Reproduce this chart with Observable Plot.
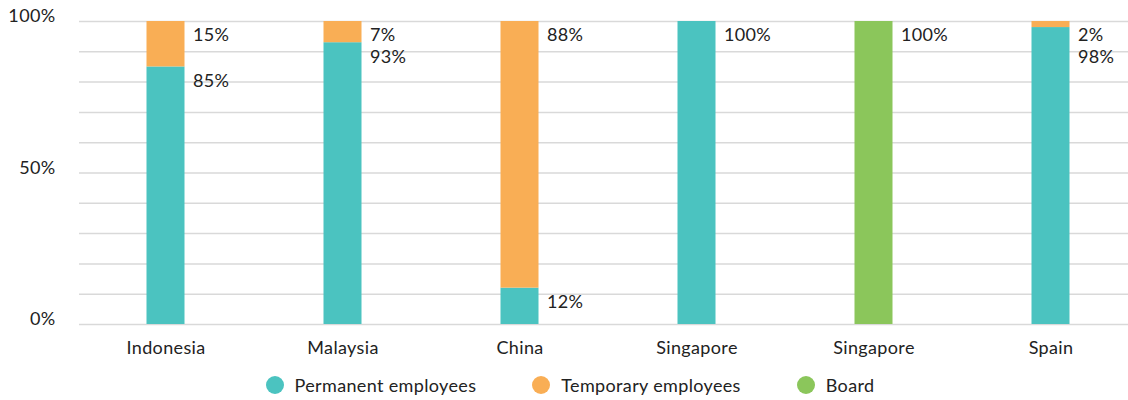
<!DOCTYPE html>
<html>
<head>
<meta charset="utf-8">
<script src="https://cdn.jsdelivr.net/npm/d3@7"></script>
<script src="https://cdn.jsdelivr.net/npm/@observablehq/plot@0.6"></script>
<style>
  html, body { margin: 0; padding: 0; background: #fff; }
  body { font-family: Lato, "Noto Sans", sans-serif; color: #222; width: 1128px; }
  #legend { display: flex; justify-content: center; align-items: center; padding-left: 12px; padding-top: 3px; height: 40px; font-size: 18px; letter-spacing: 0.35px; color: #222; }
  .item { display: flex; align-items: center; margin: 0 28px; }
  .sw { width: 18px; height: 18px; border-radius: 50%; margin-right: 11px; }
  svg text { letter-spacing: 0.35px; }
</style>
</head>
<body>
<div id="chart"></div>
<div id="legend"></div>
<script>
const categories = ["Indonesia", "Malaysia", "China", "Singapore", "Singapore", "Spain"];
const permanent = [85, 93, 12, 100, 0, 98];
const temporary = [15, 7, 88, 0, 0, 2];
const board = [0, 0, 0, 0, 100, 0];
const seriesNames = ["Permanent employees", "Temporary employees", "Board"];
const seriesColors = ["#4bc3c0", "#f9ae55", "#8bc65b"];
const yTicks = [0, 50, 100];
const gridValues = d3.range(0, 101, 10);

const seriesValues = [permanent, temporary, board];
const rows = [];
categories.forEach((c, i) => {
  seriesNames.forEach((s, j) => {
    rows.push({key: i, series: s, value: seriesValues[j][i]});
  });
});

// value labels placed at top of each segment, pushed down to avoid overlap
const labels = [];
const minGap = 7.3;
categories.forEach((c, i) => {
  let cum = 0;
  const segs = [];
  seriesNames.forEach((s, j) => {
    const v = seriesValues[j][i];
    cum += v;
    if (v > 0) segs.push({key: i, top: cum, text: v + "%"});
  });
  let prev = Infinity;
  for (let k = segs.length - 1; k >= 0; k--) {
    const pos = Math.min(segs[k].top, prev - minGap);
    segs[k].pos = pos;
    prev = pos;
    labels.push(segs[k]);
  }
});

const chart = Plot.plot({
  width: 1128,
  height: 362,
  marginTop: 21,
  marginBottom: 38,
  marginLeft: 79,
  marginRight: 0,
  style: {fontFamily: "Lato, 'Noto Sans', sans-serif", fontSize: "18px", color: "#222", background: "#fff"},
  x: {type: "band", domain: d3.range(categories.length), range: [77, 1139], padding: 0, label: null},
  y: {domain: [0, 100], label: null},
  color: {domain: seriesNames, range: seriesColors},
  marks: [
    Plot.ruleY(gridValues, {stroke: "#d9d9d9", strokeWidth: 1.5}),
    Plot.barY(rows, Plot.stackY({x: "key", y: "value", fill: "series", order: seriesNames, insetLeft: 69.5, insetRight: 69.5})),
    Plot.text(labels, {x: "key", y: "pos", text: "text", textAnchor: "start", dx: 27, dy: 14, fill: "#222", fontSize: 18}),
    Plot.axisX({tickSize: 0, tickPadding: 17, tickFormat: i => categories[i], fontSize: 18, fill: "#222"}),
    Plot.axisY({ticks: yTicks, tickSize: 0, tickPadding: 24, tickFormat: d => d + "%", dy: -5, fontSize: 18, fill: "#222"})
  ]
});
document.getElementById("chart").appendChild(chart);

const legend = document.getElementById("legend");
seriesNames.forEach((s, j) => {
  const item = document.createElement("div");
  item.className = "item";
  const sw = document.createElement("div");
  sw.className = "sw";
  sw.style.background = seriesColors[j];
  const t = document.createElement("span");
  t.textContent = s;
  item.appendChild(sw);
  item.appendChild(t);
  legend.appendChild(item);
});
</script>
</body>
</html>
